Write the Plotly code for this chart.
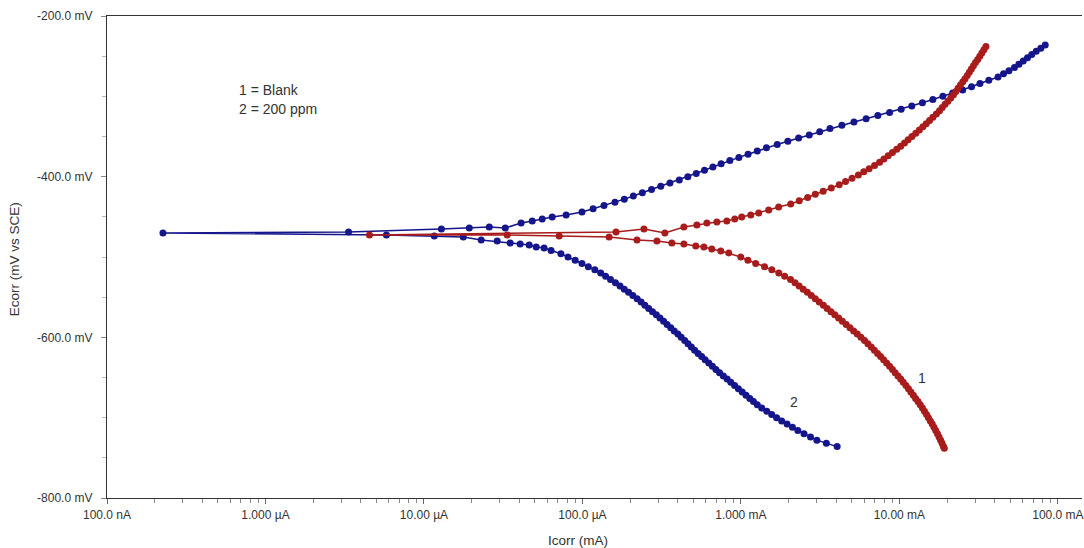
import numpy as np
import plotly.graph_objects as go

# Potentiodynamic polarisation (Tafel) scans, potential in mV vs SCE,
# current stored as log10(I / A), listed in scan order (cathodic -> anodic).

# Curve 1: blank
e_blank = [
    -738, -736, -732, -728, -724, -720, -716, -712, -708, -704,
    -700, -696, -692, -688, -684, -680, -676, -672, -668, -664,
    -660, -656, -652, -648, -644, -640, -636, -632, -628, -624,
    -620, -616, -612, -608, -604, -600, -596, -592, -588, -584,
    -580, -576, -572, -568, -564, -560, -556, -552, -548, -544,
    -540, -536, -532, -528, -524, -520, -516, -512, -508, -504,
    -500,
    -495.0, -492.6, -490.1, -487.6, -486.3, -483.8, -482.6, -480.1, -478.9,
    -475.1, -473.9, -472.6, -472.6,
    -468.9, -465.2, -470.1, -462.7, -460.2, -457.7, -456.4, -455.2, -452.7,
    -450.2, -447.7, -445.2, -441.5, -437.8, -434.0,
    -430, -426, -422, -418, -414, -410, -406, -402, -398, -394, -390, -386,
    -382, -378, -374, -370, -366, -362, -358, -354, -350, -346,
    -342, -338, -334, -330, -326, -322, -318, -314, -310, -306,
    -302, -298, -294, -290, -286, -282, -278, -274, -270, -266,
    -262, -258, -254, -250, -246, -242, -238,
]
logi_blank = [
    -1.717, -1.722, -1.731, -1.740, -1.750, -1.760, -1.771, -1.782, -1.793, -1.805,
    -1.817, -1.829, -1.842, -1.855, -1.869, -1.883, -1.898, -1.912, -1.928, -1.943,
    -1.959, -1.976, -1.992, -2.009, -2.027, -2.044, -2.062, -2.081, -2.100, -2.119,
    -2.138, -2.158, -2.178, -2.199, -2.220, -2.243, -2.266, -2.289, -2.312, -2.336,
    -2.360, -2.384, -2.408, -2.432, -2.456, -2.480, -2.506, -2.531, -2.556, -2.581,
    -2.607, -2.633, -2.659, -2.687, -2.724, -2.761, -2.805, -2.851, -2.907, -2.956,
    -3.001,
    -3.077, -3.127, -3.184, -3.234, -3.285, -3.360, -3.436, -3.530, -3.656,
    -3.832, -4.147, -4.475, -5.344,
    -3.788, -3.612, -3.480, -3.360, -3.278, -3.215, -3.152, -3.089, -3.039,
    -2.995, -2.938, -2.888, -2.825, -2.762, -2.686,
    -2.632, -2.579, -2.531, -2.481, -2.430, -2.380, -2.340, -2.299, -2.259, -2.225,
    -2.191, -2.157,
    -2.125, -2.098, -2.071, -2.044, -2.017, -1.992, -1.968, -1.945, -1.921, -1.897,
    -1.874, -1.852, -1.831, -1.810, -1.789, -1.767, -1.747, -1.730, -1.712, -1.694,
    -1.676, -1.659, -1.644, -1.630, -1.615, -1.600, -1.586, -1.572, -1.559, -1.546,
    -1.533, -1.520, -1.506, -1.493, -1.480, -1.467, -1.454,
]

# Curve 2: 200 ppm inhibitor
e_200ppm = [
    -736, -732, -728, -724, -720, -716, -712, -708, -704, -700,
    -696, -692, -688, -684, -680, -676, -672, -668, -664, -660,
    -656, -652, -648, -644, -640, -636, -632, -628, -624, -620,
    -616, -612, -608, -604, -600, -596, -592, -588, -584, -580,
    -576, -572, -568, -564, -560, -556, -552, -548, -544, -540,
    -536, -532, -528, -524, -520, -516, -512, -508, -504, -500,
    -496, -492,
    -488.8, -487.6, -485.1, -483.8, -482.6, -480.1, -478.9, -475.1, -473.9, -472.6,
    -470.1, -468.9,
    -465.2, -463.9, -462.7, -463.9, -457.7, -455.2, -452.7, -450.2, -447.7,
    -444, -440, -436, -432, -428, -424, -420, -416, -412, -408, -404, -400, -396,
    -392, -388, -384, -380, -376, -372, -368, -364, -360, -356, -352, -348, -344,
    -340, -336, -332, -328, -324, -320, -316, -312, -308, -304, -300, -296, -292,
    -288, -284, -280, -276, -272, -268, -264, -260, -256, -252, -248, -244, -240,
    -236,
]
logi_200ppm = [
    -2.393, -2.461, -2.521, -2.561, -2.602, -2.641, -2.675, -2.709, -2.743, -2.775,
    -2.806, -2.837, -2.869, -2.897, -2.921, -2.944, -2.968, -2.992, -3.016, -3.040,
    -3.064, -3.087, -3.111, -3.135, -3.158, -3.180, -3.203, -3.226, -3.248, -3.270,
    -3.292, -3.313, -3.334, -3.355, -3.377, -3.398, -3.421, -3.443, -3.466, -3.488,
    -3.511, -3.534, -3.558, -3.582, -3.606, -3.630, -3.655, -3.682, -3.709, -3.736,
    -3.763, -3.792, -3.823, -3.854, -3.885, -3.922, -3.963, -4.003, -4.046, -4.091,
    -4.136, -4.198,
    -4.242, -4.292, -4.336, -4.393, -4.456, -4.538, -4.639, -4.752, -4.935, -5.237,
    -6.647, -5.476,
    -4.890, -4.714, -4.588, -4.487, -4.387, -4.317, -4.254, -4.191, -4.103,
    -4.003, -3.933, -3.864, -3.795, -3.736, -3.679, -3.622, -3.564, -3.506, -3.448,
    -3.389, -3.335, -3.282, -3.230, -3.177, -3.125, -3.070, -3.013, -2.955, -2.897,
    -2.839, -2.771, -2.704, -2.636, -2.569, -2.503, -2.438, -2.363, -2.287, -2.210,
    -2.136, -2.062, -1.989, -1.922, -1.855, -1.789, -1.726, -1.664, -1.601, -1.545,
    -1.492, -1.436, -1.378, -1.343, -1.309, -1.274, -1.246, -1.219, -1.192, -1.165,
    -1.137, -1.108, -1.080,
]

# Axis ticks
x_tickvals = [1e-7, 1e-6, 1e-5, 1e-4, 1e-3, 1e-2, 1e-1]
x_ticktext = ["100.0 nA", "1.000 µA", "10.00 µA", "100.0 µA", "1.000 mA", "10.00 mA", "100.0 mA"]
y_tickvals = [-800, -600, -400, -200]
y_ticktext = ["-800.0 mV", "-600.0 mV", "-400.0 mV", "-200.0 mV"]

BLUE = "#15158c"
RED = "#a81c1c"
TEXT = "#333333"
FONT = "Liberation Sans, Arial, sans-serif"

fig = go.Figure()

fig.add_trace(go.Scatter(
    x=np.power(10.0, logi_200ppm), y=e_200ppm, mode="lines+markers",
    name="2 = 200 ppm",
    line=dict(color=BLUE, width=1.5),
    marker=dict(color=BLUE, size=7),
))
fig.add_trace(go.Scatter(
    x=np.power(10.0, logi_blank), y=e_blank, mode="lines+markers",
    name="1 = Blank",
    line=dict(color=RED, width=1.5),
    marker=dict(color=RED, size=7),
))

fig.update_xaxes(
    type="log", range=[-7, -0.848],
    tickmode="array", tickvals=x_tickvals, ticktext=x_ticktext,
    ticks="outside", ticklen=5, tickcolor="#666",
    tickfont=dict(size=12, color=TEXT, family=FONT),
    ticklabelstandoff=0, ticklabeloverflow="allow",
    minor=dict(ticks="outside", ticklen=4, tickcolor="#888", dtick="D1", showgrid=False),
    showline=True, linecolor="#333", linewidth=1.3, mirror=True,
    showgrid=False, zeroline=False,
)
fig.update_yaxes(
    range=[-800, -200],
    tickmode="array", tickvals=y_tickvals, ticktext=y_ticktext,
    ticks="outside", ticklen=5, tickcolor="#888",
    tickfont=dict(size=12, color=TEXT, family=FONT),
    ticklabelstandoff=6,
    minor=dict(ticks="outside", ticklen=4, tickcolor="#bbb", dtick=50, showgrid=False),
    showline=True, linecolor="#333", linewidth=1.3, mirror=False,
    showgrid=False, zeroline=False,
)

annotations = [
    # axis titles
    dict(text="Icorr (mA)", x=0.483, y=-0.089, xref="paper", yref="paper",
         xanchor="center", yanchor="middle", showarrow=False,
         font=dict(size=13.5, color=TEXT, family=FONT)),
    dict(text="Ecorr (mV vs SCE)", x=-0.094, y=0.496, xref="paper", yref="paper",
         xanchor="center", yanchor="middle", textangle=-90, showarrow=False,
         font=dict(size=13.5, color=TEXT, family=FONT)),
    # key
    dict(text="1 = Blank", x=0.133, y=0.8465, xref="paper", yref="paper",
         xanchor="left", yanchor="middle", showarrow=False,
         font=dict(size=14, color=TEXT, family=FONT)),
    dict(text="2 = 200 ppm", x=0.133, y=0.807, xref="paper", yref="paper",
         xanchor="left", yanchor="middle", showarrow=False,
         font=dict(size=14, color=TEXT, family=FONT)),
    # curve labels (log10 x on a log axis)
    dict(text="1", x=-1.855, y=-650.7, xref="x", yref="y",
         xanchor="center", yanchor="middle", showarrow=False,
         font=dict(size=14, color=TEXT, family=FONT)),
    dict(text="2", x=-2.667, y=-680.5, xref="x", yref="y",
         xanchor="center", yanchor="middle", showarrow=False,
         font=dict(size=14, color=TEXT, family=FONT)),
]

fig.update_layout(
    width=1084, height=548,
    margin=dict(l=107, r=0, t=16, b=50),
    paper_bgcolor="white", plot_bgcolor="white",
    showlegend=False,
    font=dict(family=FONT, color=TEXT),
    annotations=annotations,
)

fig.write_html("out.html")
